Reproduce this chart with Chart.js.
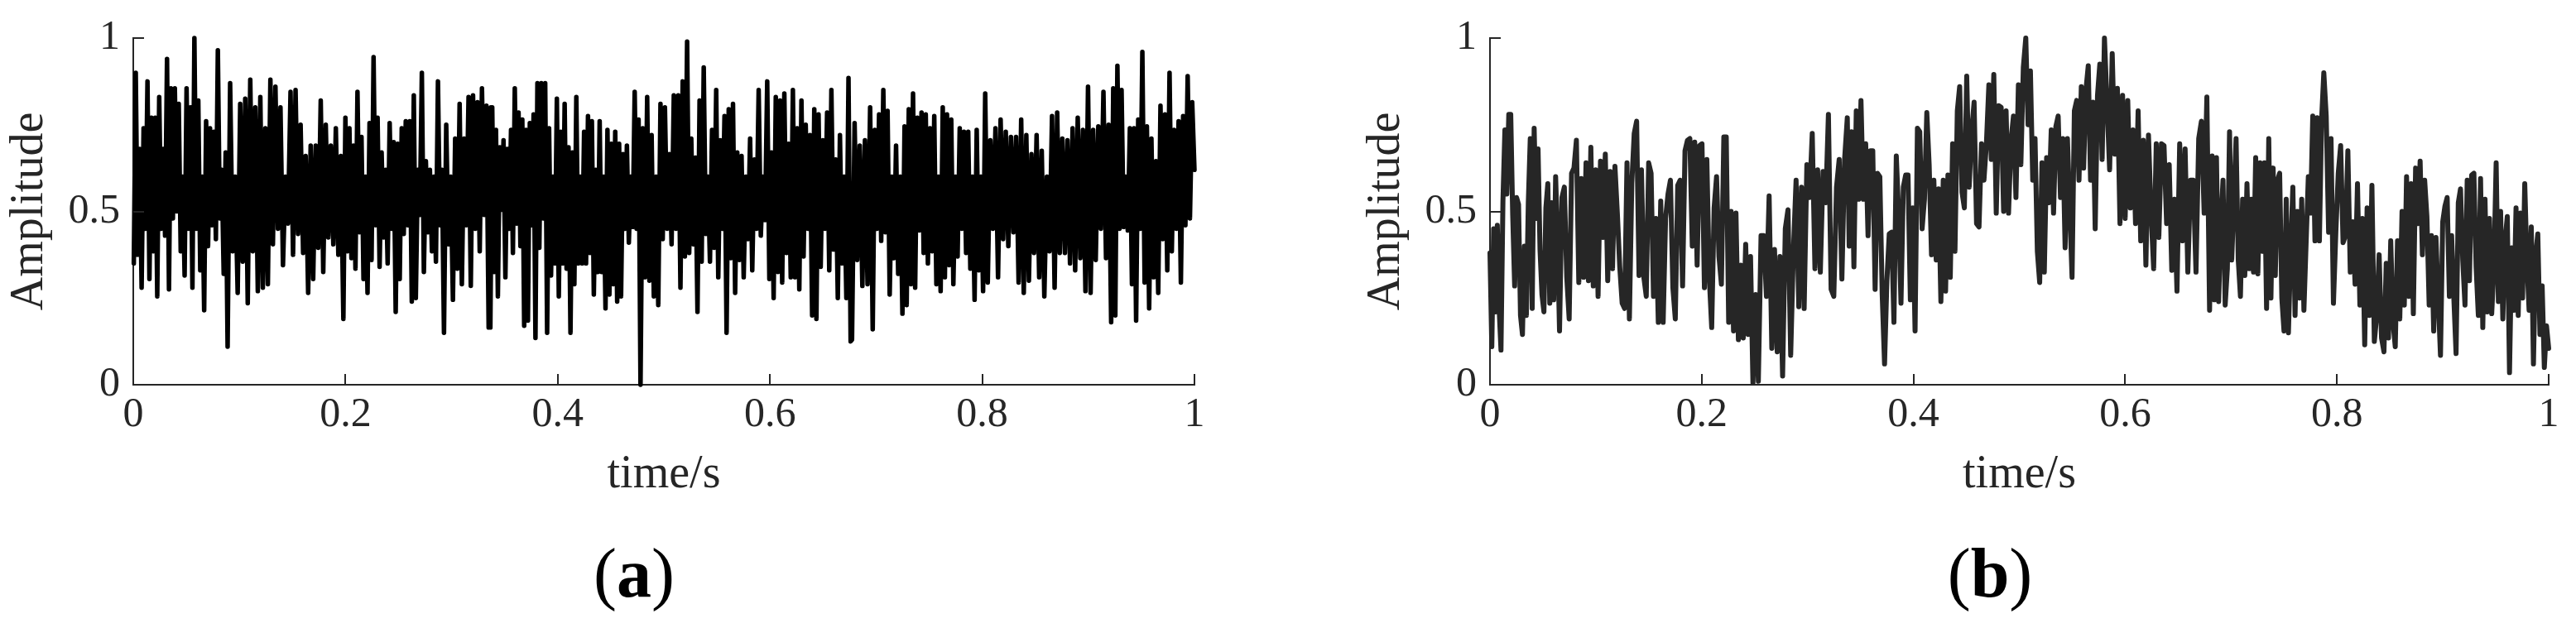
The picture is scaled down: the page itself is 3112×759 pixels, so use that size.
<!DOCTYPE html>
<html>
<head>
<meta charset="utf-8">
<script src="https://cdn.jsdelivr.net/npm/chart.js@4.4.1/dist/chart.umd.min.js"></script>
<style>
  body { margin: 0; background: #fff; }
  #wrap { position: relative; width: 3112px; height: 759px; }
  canvas { position: absolute; top: 0; }
  .cap { position: absolute; top: 651px; font-family: "Liberation Serif", serif; font-size: 84px; line-height: 1; color: #000; transform: translateX(-50%); white-space: nowrap; }
</style>
</head>
<body>
<div id="wrap">
  <canvas id="chartA" width="1556" height="640" style="left:0"></canvas>
  <canvas id="chartB" width="1556" height="640" style="left:1556px"></canvas>
  <div class="cap" style="left:766px">(<b>a</b>)</div>
  <div class="cap" style="left:2404px">(<b>b</b>)</div>
</div>
<script>
// tick labels
const xTicks = [0, 0.2, 0.4, 0.6, 0.8, 1];
const yTicks = [0, 0.5, 1];

// (a) amplitude in three pieces.
// knots: [index in piece, time/s] of a few spikes whose place was read too
const ampA1 = [0.35,0.90,0.375,0.68,0.28,0.74,0.45,0.875,0.305,0.77,0.385,0.77,0.255,0.83,0.45,0.68,0.43,0.94,0.275,0.855,0.48,0.855,0.50,0.81,0.385,0.60,0.315,0.855,0.45,0.80,0.28,1.0,0.45,0.82,0.33,0.60,0.215,0.76,0.40,0.74,0.46,0.73,0.42,0.965,0.48,0.62,0.32,0.67,0.11,0.87,0.385,0.60,0.265,0.81,0.355,0.825,0.235,0.88,0.385,0.80,0.27,0.83,0.28,0.74,0.29,0.88,0.405,0.86,0.45,0.80,0.345,0.60,0.465,0.845,0.375,0.85,0.435,0.75,0.38,0.66,0.265,0.69,0.305,0.69,0.395,0.82,0.325,0.75,0.425,0.69,0.405,0.74,0.375,0.66,0.19,0.77,0.385,0.74,0.365,0.69,0.335,0.845,0.44,0.715,0.305,0.60,0.265,0.755,0.36,0.945,0.46,0.77,0.34,0.67,0.425,0.62,0.35,0.755,0.45,0.70,0.21,0.695,0.305,0.74,0.435,0.76,0.46,0.76,0.24,0.835,0.25,0.62,0.49,0.90,0.325,0.645,0.44,0.62,0.385,0.60,0.355,0.875,0.46,0.62,0.15,0.75,0.405,0.60,0.245,0.71,0.335,0.81,0.29,0.71,0.46,0.83,0.285,0.835,0.45,0.815,0.385,0.855,0.49,0.805,0.165,0.80];
const ampA2 = [0.165,0.80,0.325,0.735,0.255,0.685,0.505,0.705,0.31,0.68,0.45,0.735,0.38,0.855,0.465,0.785,0.40,0.765,0.17,0.735,0.185,0.755,0.46,0.78,0.135,0.87,0.395,0.87,0.48,0.87,0.15,0.74,0.315,0.60,0.35,0.825,0.255,0.73,0.35,0.81,0.335,0.685,0.15,0.67,0.29,0.83,0.35,0.60,0.35,0.73,0.35,0.775,0.38,0.76,0.26,0.62,0.325,0.76,0.325,0.60,0.22,0.735,0.26,0.695,0.29,0.73,0.24,0.695,0.255,0.665,0.45,0.69,0.41,0.60,0.455,0.845,0.45,0.765,0.0,0.74,0.31,0.83,0.30,0.72,0.255,0.60,0.23,0.81,0.42,0.80,0.45,0.665,0.405,0.835,0.45,0.835,0.28,0.875,0.37,0.99,0.38,0.71,0.405,0.655,0.21,0.82,0.355,0.915,0.435,0.60,0.355,0.735,0.395,0.85,0.31,0.705,0.45,0.775,0.15,0.795,0.365,0.81,0.265,0.67,0.36,0.66,0.31,0.60,0.42,0.71,0.33,0.65,0.45,0.85,0.43,0.60,0.475,0.875,0.305,0.67,0.25,0.83,0.325,0.82,0.295,0.84,0.38,0.695,0.31,0.85,0.31,0.74,0.275,0.82,0.37,0.75,0.45,0.72,0.20,0.795,0.19,0.78,0.34,0.705,0.45,0.785,0.33,0.85,0.39,0.65,0.25,0.72,0.35,0.60,0.25,0.885,0.125];
const ampA3 = [0.13,0.755,0.36,0.69,0.285,0.705,0.29,0.80,0.16,0.735,0.45,0.78,0.415,0.85,0.44,0.79,0.26,0.60,0.365,0.69,0.32,0.60,0.205,0.745,0.23,0.795,0.29,0.84,0.28,0.77,0.445,0.785,0.38,0.78,0.35,0.74,0.385,0.775,0.29,0.60,0.27,0.80,0.31,0.78,0.345,0.765,0.29,0.60,0.37,0.74,0.45,0.73,0.38,0.73,0.335,0.60,0.245,0.735,0.33,0.60,0.27,0.84,0.295,0.705,0.45,0.74,0.31,0.765,0.42,0.73,0.40,0.715,0.44,0.715,0.295,0.765,0.265,0.72,0.30,0.665,0.38,0.72,0.31,0.675,0.255,0.60,0.385,0.775,0.28,0.785,0.38,0.71,0.38,0.705,0.35,0.74,0.33,0.77,0.365,0.735,0.27,0.86,0.265,0.735,0.36,0.745,0.45,0.845,0.365,0.75,0.18,0.855,0.20,0.92,0.45,0.85,0.455,0.60,0.445,0.74,0.29,0.74,0.185,0.765,0.45,0.96,0.295,0.745,0.22,0.71,0.31,0.645,0.265,0.805,0.42,0.78,0.33,0.90,0.385,0.735,0.45,0.76,0.295,0.775,0.46,0.89,0.48,0.815,0.62];
const knotsA1 = [[0, 0.0005], [48, 0.0889], [94, 0.198], [144, 0.2928], [165, 0.337]];
const knotsA2 = [[0, 0.3365], [24, 0.379], [78, 0.478], [99, 0.5219], [118, 0.5591], [176, 0.676]];
const knotsA3 = [[0, 0.6773], [8, 0.6968], [61, 0.8028], [110, 0.9215], [125, 0.9509], [148, 1]];

// (b) amplitude, same layout
const ampB1 = [0.38,0.11,0.45,0.21,0.46,0.22,0.10,0.53,0.735,0.55,0.78,0.78,0.49,0.285,0.54,0.52,0.20,0.145,0.40,0.20,0.525,0.71,0.22,0.74,0.48,0.68,0.39,0.26,0.21,0.51,0.58,0.235,0.525,0.245,0.60,0.415,0.155,0.54,0.57,0.31,0.19,0.61,0.625,0.705,0.295,0.595,0.31,0.64,0.30,0.685,0.285,0.62,0.255,0.645,0.425,0.665,0.30,0.615,0.335,0.63,0.495,0.34,0.235,0.22,0.64,0.19,0.58,0.725,0.76,0.315,0.62,0.31,0.255,0.64,0.61,0.255,0.48,0.18,0.53,0.18,0.48,0.55,0.59,0.28,0.19,0.575,0.59,0.285,0.675,0.705,0.71,0.40,0.70,0.345,0.69,0.695,0.28,0.65,0.31,0.165,0.51,0.60,0.37,0.29,0.715,0.715,0.18,0.50,0.155,0.495,0.13,0.345,0.135,0.405,0.145,0.37,0.005,0.26,0.01,0.43,0.43,0.255,0.545,0.105,0.39,0.095,0.37,0.025,0.45,0.505,0.085,0.385,0.59,0.225,0.57,0.22,0.635,0.54,0.725,0.335,0.62,0.325,0.615,0.525,0.78,0.275,0.255,0.57,0.65,0.305,0.65,0.77];
const ampB2 = [0.40,0.73,0.34,0.79,0.535,0.82,0.535,0.695,0.43,0.675,0.675,0.275,0.61,0.60,0.26,0.06,0.30,0.435,0.44,0.18,0.66,0.495,0.235,0.57,0.605,0.605,0.245,0.51,0.155,0.74,0.73,0.45,0.535,0.785,0.635,0.375,0.59,0.36,0.565,0.24,0.59,0.27,0.605,0.31,0.695,0.385,0.79,0.86,0.555,0.51,0.89,0.57,0.73,0.815,0.465,0.455,0.695,0.59,0.695,0.865,0.65,0.895,0.495,0.805,0.80,0.50,0.79,0.495,0.705,0.775,0.54,0.865,0.635,0.915,1.0,0.75,0.905,0.59,0.71,0.385,0.295,0.64,0.325,0.655,0.525,0.735,0.495,0.745,0.775,0.54,0.71,0.395,0.71,0.51,0.31,0.79,0.82,0.59,0.86,0.625,0.85,0.92,0.59,0.815,0.45,0.835,0.925,0.65,1.0,0.81,0.62,0.955,0.665,0.855,0.465,0.835,0.48,0.82,0.51,0.735,0.465,0.79,0.415,0.705,0.345,0.72,0.495,0.335,0.695,0.425,0.695,0.69,0.465,0.635,0.33,0.535,0.27,0.695,0.415,0.68,0.325,0.59,0.59,0.325,0.71,0.76,0.495,0.83,0.215];
const ampB3 = [0.66,0.245,0.655,0.24,0.465,0.59,0.23,0.335,0.73,0.36,0.535,0.71,0.36,0.255,0.535,0.315,0.58,0.335,0.535,0.325,0.655,0.32,0.64,0.385,0.64,0.22,0.71,0.25,0.625,0.315,0.59,0.61,0.25,0.155,0.535,0.15,0.385,0.57,0.20,0.50,0.25,0.535,0.215,0.41,0.60,0.495,0.775,0.415,0.77,0.415,0.765,0.90,0.775,0.44,0.71,0.235,0.44,0.61,0.69,0.41,0.43,0.675,0.325,0.47,0.29,0.58,0.23,0.48,0.115,0.51,0.20,0.575,0.125,0.20,0.375,0.135,0.095,0.35,0.135,0.415,0.18,0.11,0.415,0.19,0.50,0.23,0.60,0.255,0.58,0.205,0.625,0.465,0.645,0.375,0.59,0.485,0.23,0.43,0.155,0.425,0.25,0.085,0.47,0.515,0.54,0.255,0.43,0.25,0.09,0.525,0.565,0.36,0.23,0.59,0.30,0.605,0.61,0.34,0.20,0.595,0.165,0.535,0.21,0.48,0.205,0.34,0.64,0.24,0.50,0.19,0.415,0.485,0.035,0.395,0.215,0.51,0.20,0.495,0.25,0.58,0.355,0.215,0.455,0.06,0.375,0.435,0.145,0.285,0.05,0.17,0.105];
const knotsB1 = [[0, 0], [6, 0.0104], [36, 0.0657], [77, 0.159], [116, 0.2484], [151, 0.3375]];
const knotsB2 = [[0, 0.3393], [15, 0.3727], [50, 0.4503], [74, 0.5061], [108, 0.5804], [136, 0.6489], [148, 0.6797]];
const knotsB3 = [[0, 0.6821], [33, 0.75], [51, 0.7876], [76, 0.8444], [101, 0.8978], [132, 0.963], [150, 1]];

const axisColor = '#262626';
const fontFamily = '"Liberation Serif", "Times New Roman", serif';

// place the samples of a piece in time between its knots
function series(pieces) {
  const pts = [];
  pieces.forEach(([vals, knots]) => {
    vals.forEach((v, i) => {
      let k = 0;
      while (k < knots.length - 2 && i > knots[k + 1][0]) k++;
      const [i0, t0] = knots[k], [i1, t1] = knots[k + 1];
      pts.push({ x: t0 + (t1 - t0) * (i - i0) / (i1 - i0), y: v });
    });
  });
  return pts;
}

// matlab style ticks pointing into the plot
const inwardTicks = {
  id: 'inwardTicks',
  afterDraw(chart) {
    const { ctx, chartArea: a, scales: { x, y } } = chart;
    ctx.save();
    ctx.strokeStyle = axisColor;
    ctx.lineWidth = 2;
    ctx.beginPath();
    x.ticks.forEach(t => {
      const px = Math.round(x.getPixelForValue(t.value));
      ctx.moveTo(px, a.bottom);
      ctx.lineTo(px, a.bottom - 13);
    });
    y.ticks.forEach(t => {
      const py = Math.round(y.getPixelForValue(t.value));
      ctx.moveTo(a.left, py);
      ctx.lineTo(a.left + 13, py);
    });
    ctx.stroke();
    ctx.restore();
  }
};

function makeChart(id, points, lineColor, lineWidth, padding) {
  return new Chart(document.getElementById(id).getContext('2d'), {
    type: 'line',
    data: {
      datasets: [{
        data: points,
        borderColor: lineColor,
        borderWidth: lineWidth,
        borderJoinStyle: 'round',
        borderCapStyle: 'round',
        pointRadius: 0,
        tension: 0,
        fill: false,
        clip: 6
      }]
    },
    options: {
      responsive: false,
      animation: false,
      devicePixelRatio: 1,
      layout: { padding: padding },
      plugins: { legend: { display: false }, tooltip: { enabled: false } },
      scales: {
        x: {
          type: 'linear',
          min: 0,
          max: 1,
          afterBuildTicks: s => { s.ticks = xTicks.map(v => ({ value: v })); },
          afterFit: s => { s.height = 175; },
          grid: { display: false, drawTicks: false },
          border: { display: true, color: axisColor, width: 2 },
          ticks: { color: axisColor, padding: 7, maxRotation: 0, callback: v => String(v), font: { family: fontFamily, size: 50 } },
          title: { display: true, text: 'time/s', color: axisColor, padding: { top: 0, bottom: 32 }, font: { family: fontFamily, size: 56 } }
        },
        y: {
          min: 0,
          max: 1,
          afterBuildTicks: s => { s.ticks = yTicks.map(v => ({ value: v })); },
          afterFit: s => { s.width = 161; },
          grid: { display: false, drawTicks: false },
          border: { display: true, color: axisColor, width: 2 },
          ticks: { color: axisColor, padding: 16, callback: v => String(v), font: { family: fontFamily, size: 50 } },
          title: { display: true, text: 'Amplitude', color: axisColor, padding: { top: 3, bottom: 0 }, font: { family: fontFamily, size: 56 } }
        }
      }
    },
    plugins: [inwardTicks]
  });
}

makeChart('chartA', series([[ampA1, knotsA1], [ampA2, knotsA2], [ampA3, knotsA3]]), '#000000', 5.5, { left: 0, top: 38, right: 113, bottom: 0 });
makeChart('chartB', series([[ampB1, knotsB1], [ampB2, knotsB2], [ampB3, knotsB3]]), '#262626', 6, { left: 83, top: 38, right: 33, bottom: 0 });
</script>
</body>
</html>
